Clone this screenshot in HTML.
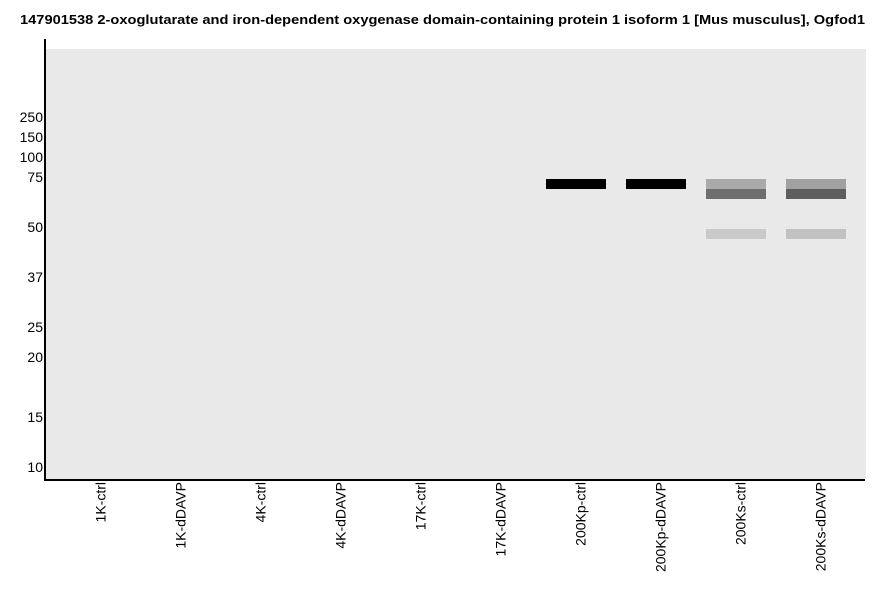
<!DOCTYPE html>
<html><head><meta charset="utf-8"><style>
html,body{margin:0;padding:0;background:#fff;}
svg{display:block;}
text{font-family:"Liberation Sans",Arial,sans-serif;}
</style></head><body>
<svg width="886" height="595" viewBox="0 0 886 595" xmlns="http://www.w3.org/2000/svg">
<rect x="0" y="0" width="886" height="595" fill="#fff"/>
<text x="20" y="24" font-size="13" font-weight="bold" fill="#000" textLength="845" lengthAdjust="spacingAndGlyphs">147901538 2-oxoglutarate and iron-dependent oxygenase domain-containing protein 1 isoform 1 [Mus musculus], Ogfod1</text>
<rect x="46" y="49" width="820" height="430" fill="#e8e9e8"/>
<rect x="44" y="39" width="2" height="442" fill="#000"/>
<rect x="44" y="479" width="821" height="2" fill="#000"/>
<g font-size="14" fill="#000" text-anchor="end">
<text x="43" y="122">250</text>
<text x="43" y="142">150</text>
<text x="43" y="162">100</text>
<text x="43" y="182">75</text>
<text x="43" y="232">50</text>
<text x="43" y="282">37</text>
<text x="43" y="332">25</text>
<text x="43" y="362">20</text>
<text x="43" y="422">15</text>
<text x="43" y="472">10</text>
</g>
<rect x="546" y="179" width="60" height="10" fill="#000"/>
<rect x="626" y="179" width="60" height="10" fill="#000"/>
<rect x="706" y="179" width="60" height="10" fill="#aaaaaa"/>
<rect x="706" y="189" width="60" height="10" fill="#6e6e6e"/>
<rect x="706" y="229" width="60" height="10" fill="#c9c9c9"/>
<rect x="786" y="179" width="60" height="10" fill="#a1a1a1"/>
<rect x="786" y="189" width="60" height="10" fill="#5d5d5d"/>
<rect x="786" y="229" width="60" height="10" fill="#c2c2c2"/>
<g font-size="14" fill="#000" text-anchor="end">
<text transform="translate(105.5,482) rotate(-90)">1K-ctrl</text>
<text transform="translate(185.5,482) rotate(-90)">1K-dDAVP</text>
<text transform="translate(265.5,482) rotate(-90)">4K-ctrl</text>
<text transform="translate(345.5,482) rotate(-90)">4K-dDAVP</text>
<text transform="translate(425.5,482) rotate(-90)">17K-ctrl</text>
<text transform="translate(505.5,482) rotate(-90)">17K-dDAVP</text>
<text transform="translate(585.5,482) rotate(-90)">200Kp-ctrl</text>
<text transform="translate(665.5,482) rotate(-90)">200Kp-dDAVP</text>
<text transform="translate(745.5,482) rotate(-90)">200Ks-ctrl</text>
<text transform="translate(825.5,482) rotate(-90)">200Ks-dDAVP</text>
</g>
</svg>
</body></html>
